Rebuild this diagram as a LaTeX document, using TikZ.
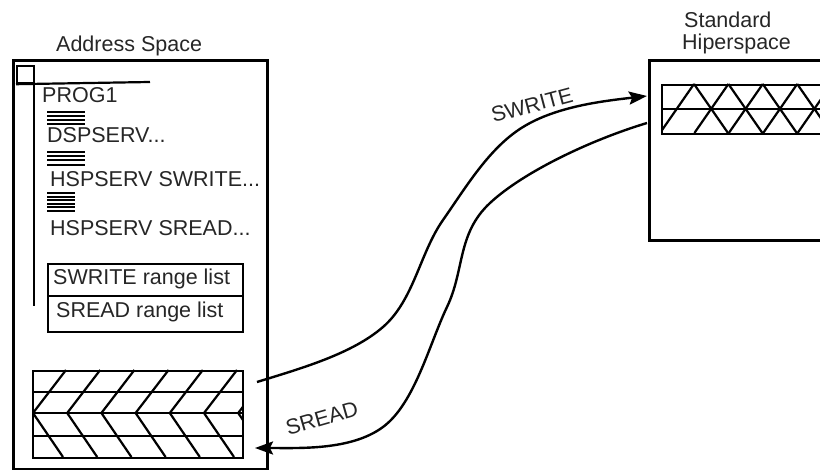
\documentclass[tikz,border=0pt]{standalone}
\usepackage{fontspec}
\setmainfont{Liberation Sans}
\usetikzlibrary{arrows.meta}
\begin{document}
\begin{tikzpicture}[x=1pt,y=-1pt,
  frame/.style={draw=black, line width=3pt, inner sep=0pt, anchor=north west},
  inbox/.style={draw=black, line width=2.4pt, inner sep=0pt, anchor=north west},
  hatch/.style={line width=2.2pt},
  lbl/.style={font=\fontsize{21.5}{25}\selectfont, inner sep=0pt, text=black!85},
  flow/.style={line width=2.4pt, -{Stealth[length=18pt,width=13pt,inset=3pt]}},
  bar/.style={line width=2.1pt}]
\useasboundingbox (0,0) rectangle (820,470);
\clip (0,0) rectangle (820,470);

% titles
\node[lbl, anchor=base west] (astitle) at (56,52) {Address Space};
\node[lbl, anchor=base west] (hstitle1) at (684,28) {Standard};
\node[lbl, anchor=base west] (hstitle2) at (682,50) {Hiperspace};

% address space
\node[frame, minimum width=254pt, minimum height=409pt] (as) at (12,59) {};
\node[inbox, line width=2.2pt, minimum width=17pt, minimum height=17pt] (sq) at (16,65) {};
\draw[line width=2.2pt] (sq.south west) -- (150,82);
\draw[line width=2.6pt] (34,82) -- (34,306);

\node[lbl, anchor=base west] (prog) at (42,103) {PROG1};
\node[lbl, anchor=base west] (dsp) at (47,143) {DSPSERV...};
\node[lbl, anchor=base west] (hsw) at (50,187) {HSPSERV SWRITE...};
\node[lbl, anchor=base west] (hsr) at (50,236) {HSPSERV SREAD...};

\foreach \yy in {111.7,116,120.2,124.4} \draw[bar] (47,\yy) -- (85,\yy);
\foreach \yy in {151.7,156,160.4,164.8} \draw[bar] (47,\yy) -- (85,\yy);
\foreach \yy in {193,196.6,200.2,203.8,207.4,211} \draw[bar] (47,\yy) -- (75,\yy);

% range lists
\node[inbox, minimum width=195pt, minimum height=32pt] (swrl) at (47,263) {};
\node[inbox, minimum width=195pt, minimum height=36pt] (srrl) at (47,295) {};
\node[lbl, anchor=base west] (swrltxt) at (53,285) {SWRITE range list};
\node[lbl, anchor=base west] (srrltxt) at (56,318) {SREAD range list};

% address space data block
\node[inbox, minimum width=210pt, minimum height=87pt] (asdata) at (32,370) {};
\begin{scope}
  \clip (32,370) rectangle (242,457);
  \foreach \yy in {392,413,436} \draw[hatch] (32,\yy) -- (242,\yy);
  \foreach \k in {0,...,6} {
    \draw[hatch] ({33+34.2*\k},413) -- ({66+34.2*\k},370);
    \draw[hatch] ({33+34.2*\k},413) -- ({63+34.2*\k},457);
  }
\end{scope}

% hiperspace
\node[frame, minimum width=200pt, minimum height=180pt] (hs) at (648,59) {};
\node[inbox, minimum width=180pt, minimum height=49pt] (hsdata) at (661,84) {};
\begin{scope}
  \clip (661,84) rectangle (841,133);
  \draw[hatch] (661,109) -- (841,109);
  \foreach \k in {0,...,5} {
    \draw[hatch] ({660+34.4*\k},133) -- ({694+34.4*\k},84);
    \draw[hatch] ({694+34.4*\k},84) -- ({728+34.4*\k},133);
  }
\end{scope}

% connectors
\coordinate (swstart) at (257,382);
\coordinate (swend) at (647,96);
\coordinate (srstart) at (647,123);
\coordinate (srend) at (255,448);
\draw[flow] (swstart) .. controls (300.7,368.5) and (352,354) .. (383,327)
  .. controls (414,300) and (419.7,253.3) .. (443,220)
  .. controls (466.3,186.7) and (489.3,147.7) .. (523,127)
  .. controls (556.7,106.3) and (603.3,101) .. (swend);
\draw[flow] (srstart) .. controls (589.7,140.3) and (523,172.3) .. (490,203)
  .. controls (457,233.7) and (464.8,269.7) .. (447,307)
  .. controls (429.2,344.3) and (414.7,403.5) .. (383,427)
  .. controls (351.3,450.5) and (299.7,448) .. (srend);

\node[lbl, rotate=15] (swlbl) at (532,105) {SWRITE};
\node[lbl, rotate=16] (srlbl) at (322,418) {SREAD};
\end{tikzpicture}
\end{document}
